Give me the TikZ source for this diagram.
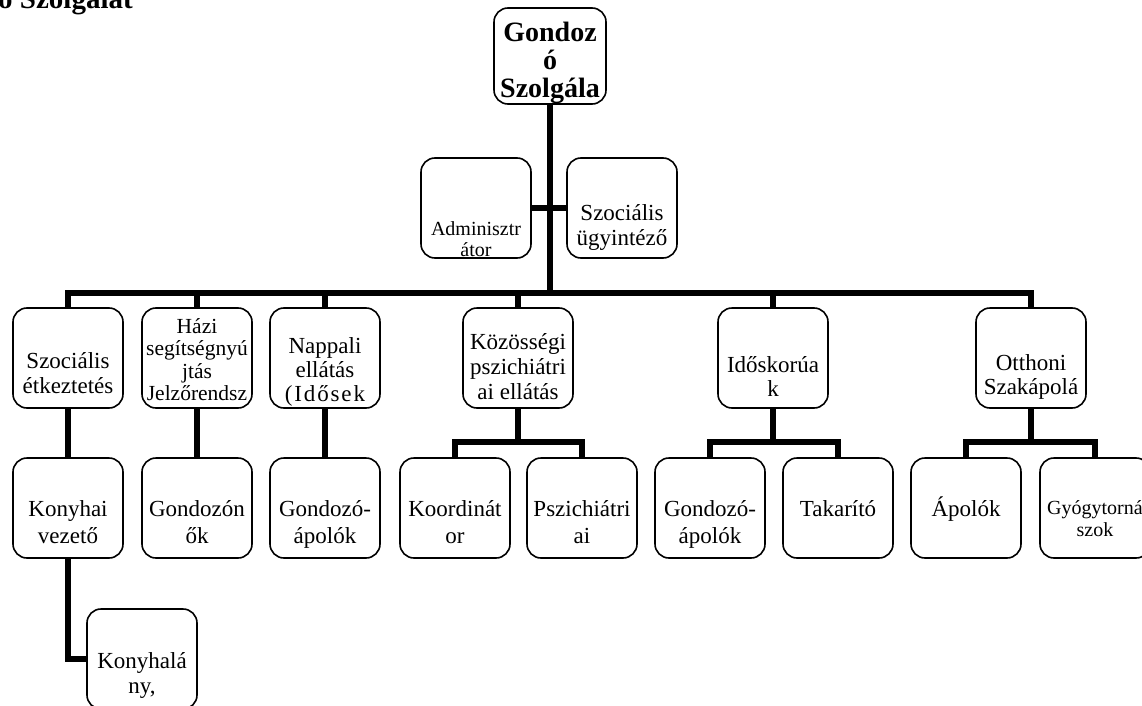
\documentclass[tikz,border=0pt]{standalone}
\usepackage{fontspec}
\setmainfont{Liberation Serif}
\newcommand\ml[1]{\begin{tabular}[t]{@{}c@{}}#1\end{tabular}}
\tikzset{
  box/.style={draw, line width=1.6pt, rounded corners=14pt, minimum width=110pt, minimum height=100pt, inner sep=0pt, outer sep=0pt},
  txt/.style={anchor=base, inner sep=0pt, font=\fontsize{23}{25}\selectfont},
  smalltxt/.style={anchor=base, inner sep=0pt, font=\fontsize{21.5}{22.5}\selectfont},
  conn/.style={line width=6pt},
}
\begin{document}
\begin{tikzpicture}[x=1pt, y=-1pt]
\useasboundingbox (0,0) rectangle (1142,706);
% title fragment
\node[anchor=base west, inner sep=0pt, font=\bfseries\fontsize{29}{30}\selectfont] (title) at (-2,9) {ó Szolgálat};
% top
\node[box, minimum width=112pt, minimum height=96pt] (G) at (550,56) {};
\node[anchor=base, inner sep=0pt, font=\bfseries\fontsize{28}{28}\selectfont] (Gt) at (550,42) {\ml{Gondoz\\ó\\Szolgála}};
% staff
\node[box] (A) at (476,208) {};
\node[anchor=base, inner sep=0pt, font=\fontsize{20}{21}\selectfont] (At) at (476,235) {\ml{Adminisztr\\átor}};
\node[box] (S) at (622,208) {};
\node[txt] (St) at (622,220) {\ml{Szociális\\ügyintéző}};
% level 2
\node[box] (L1) at (68,358) {};
\node[txt] (L1t) at (68,368) {\ml{Szociális\\étkeztetés}};
\node[box] (L2) at (197,358) {};
\node[smalltxt] (L2t) at (197,333) {\ml{Házi\\segítségnyú\\jtás\\Jelzőrendsz}};
\node[box] (L3) at (325,358) {};
\node[txt, font=\fontsize{23}{24}\selectfont] (L3t) at (325,353) {\ml{Nappali\\ellátás\\{\addfontfeatures{LetterSpace=8}(Idősek}}};
\node[box] (L4) at (518,358) {};
\node[txt] (L4t) at (518,349) {\ml{Közösségi\\pszichiátri\\ai ellátás}};
\node[box] (L5) at (773,358) {};
\node[txt, font=\fontsize{23}{24}\selectfont] (L5t) at (773,372) {\ml{Időskorúa\\k}};
\node[box] (L6) at (1031,358) {};
\node[txt, font=\fontsize{23}{24}\selectfont] (L6t) at (1031,370) {\ml{Otthoni\\Szakápolá}};
% level 3
\node[box] (M1) at (68,508) {};
\node[txt, font=\fontsize{23}{27}\selectfont] (M1t) at (68,516) {\ml{Konyhai\\vezető}};
\node[box] (M2) at (197,508) {};
\node[txt, font=\fontsize{23}{27}\selectfont] (M2t) at (197,516) {\ml{Gondozón\\ők}};
\node[box] (M3) at (325,508) {};
\node[txt, font=\fontsize{23}{27}\selectfont] (M3t) at (325,516) {\ml{Gondozó-\\ápolók}};
\node[box] (N1) at (455,508) {};
\node[txt, font=\fontsize{23}{27}\selectfont] (N1t) at (455,516) {\ml{Koordinát\\or}};
\node[box] (N2) at (582,508) {};
\node[txt, font=\fontsize{23}{27}\selectfont] (N2t) at (582,516) {\ml{Pszichiátri\\ai}};
\node[box] (N3) at (710,508) {};
\node[txt, font=\fontsize{23}{27}\selectfont] (N3t) at (710,516) {\ml{Gondozó-\\ápolók}};
\node[box] (N4) at (838,508) {};
\node[txt] (N4t) at (838,516) {Takarító};
\node[box] (N5) at (966,508) {};
\node[txt] (N5t) at (966,516) {Ápolók};
\node[box] (N6) at (1095,508) {};
\node[anchor=base, inner sep=0pt, font=\fontsize{20}{22}\selectfont] (N6t) at (1095,514) {\ml{Gyógytorná\\szok}};
% level 4
\node[box] (K) at (142,659) {};
\node[txt] (Kt) at (142,668) {\ml{Konyhalá\\ny,}};
% connectors
\coordinate (bus) at (550,293);
\draw[conn] (G.south) -- (bus);
\draw[conn] (A.east) -- (S.west);
\draw[conn] (L1.north) |- (bus) -| (L6.north);
\foreach \n in {L2,L3,L4,L5} \draw[conn] (\n.north) -- (\n.north |- bus);
\draw[conn] (L1.south) -- (M1.north);
\draw[conn] (L2.south) -- (M2.north);
\draw[conn] (L3.south) -- (M3.north);
\draw[conn] (M1.south) |- (K.west);
\coordinate (c4) at (518,442);
\draw[conn] (L4.south) -- (c4);
\draw[conn] (N1.north) |- (c4) -| (N2.north);
\coordinate (c5) at (773,442);
\draw[conn] (L5.south) -- (c5);
\draw[conn] (N3.north) |- (c5) -| (N4.north);
\coordinate (c6) at (1031,442);
\draw[conn] (L6.south) -- (c6);
\draw[conn] (N5.north) |- (c6) -| (N6.north);
\end{tikzpicture}
\end{document}
